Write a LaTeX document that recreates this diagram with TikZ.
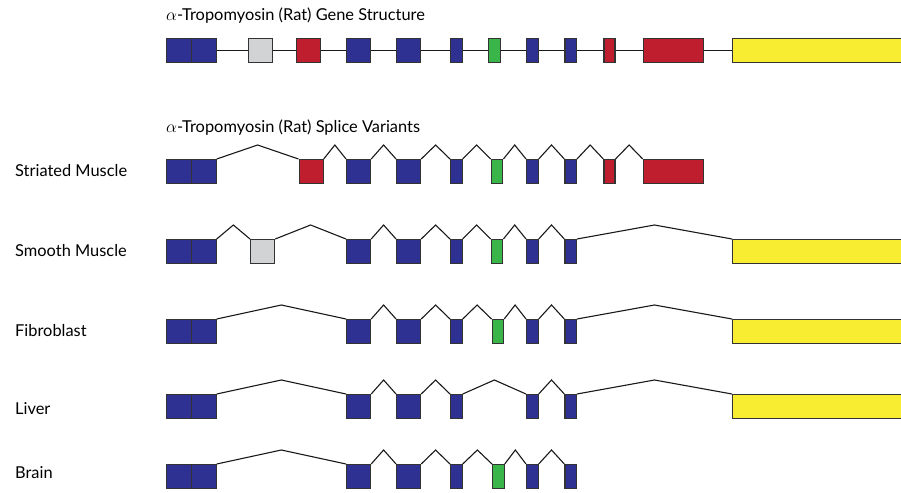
\documentclass[tikz,border=0pt]{standalone}
\usepackage{fontspec}
\setmainfont{Lato}
\usetikzlibrary{calc}
\definecolor{exblue}{HTML}{2E3192}
\definecolor{exred}{HTML}{BE1E2D}
\definecolor{exgreen}{HTML}{39B54A}
\definecolor{exgrey}{HTML}{D1D3D4}
\definecolor{exyellow}{HTML}{F9ED32}
\tikzset{
    %exon boxes
    exon/.style={
      rectangle,
      draw=black!80, line width=1.2pt,
      inner sep=0pt,
      minimum height=24pt,
      anchor=north west},
    intron/.style={
      draw=black!90, line width=1.1pt},
    splice/.style={
      draw=black!90, line width=1.1pt, line join=miter},
    title/.style={
      anchor=base west, inner sep=0pt,
      font=\fontsize{16.4}{19}\selectfont},
    tissue/.style={
      anchor=base west, inner sep=0pt,
      font=\fontsize{16.4}{19}\selectfont},
}

\begin{document}
\begin{tikzpicture}[x=1pt,y=-1pt]
    \useasboundingbox (0,0) rectangle (901,492);
    \clip (0,0) rectangle (901,492);

    \node (genetitle) [title] at (166,21)
          {$\alpha$-Tropomyosin (Rat) Gene Structure};
    \node (splicetitle) [title] at (166,132.5)
          {$\alpha$-Tropomyosin (Rat) Splice Variants};

    % gene structure
    \foreach \n/\x/\w/\c in {1/166/24.5/exblue, 2/191/24.5/exblue,
        3/247.5/24/exgrey, 4/296/24/exred, 5/346/24/exblue, 6/396/24/exblue,
        7/450/11.5/exblue, 8/488/11.5/exgreen, 9/526/11.5/exblue,
        10/564.3/11.5/exblue, 11/603.3/11/exred, 12/642.7/60/exred,
        13/732/190/exyellow}
      \node (g\n) [exon, fill=\c, minimum width=\w pt] at (\x,38) {};
    \foreach \a/\b in {2/3,3/4,4/5,5/6,6/7,7/8,8/9,9/10,10/11,11/12,12/13}
      \draw [intron] (g\a.east) -- (g\b.west);

    % striated muscle
    \node (striated) [tissue] at (15,176) {Striated Muscle};
    \foreach \n/\x/\w/\c in {1/166/24.5/exblue, 2/191/24.5/exblue,
        4/298.5/24/exred, 5/346/24/exblue, 6/396/24/exblue,
        7/450/11.5/exblue, 8/490.7/11.5/exgreen, 9/526/11.5/exblue,
        10/564.3/11.5/exblue, 11/603.3/11/exred, 12/642.7/60/exred}
      \node (s\n) [exon, fill=\c, minimum width=\w pt] at (\x,159) {};
    \foreach \a/\b in {2/4,4/5,5/6,6/7,7/8,8/9,9/10,10/11,11/12}
      \draw [splice] (s\a.north east)
        -- ($(s\a.north east)!.5!(s\b.north west)+(0,-14)$) -- (s\b.north west);

    % smooth muscle
    \node (smooth) [tissue] at (15,256) {Smooth Muscle};
    \foreach \n/\x/\w/\c in {1/166/24.5/exblue, 2/191/24.5/exblue,
        3/250/24/exgrey, 5/346/24/exblue, 6/396/24/exblue,
        7/450/11.5/exblue, 8/490.7/11.5/exgreen, 9/526/11.5/exblue,
        10/564.3/11.5/exblue, 13/732/190/exyellow}
      \node (m\n) [exon, fill=\c, minimum width=\w pt] at (\x,239) {};
    \foreach \a/\b in {2/3,3/5,5/6,6/7,7/8,8/9,9/10,10/13}
      \draw [splice] (m\a.north east)
        -- ($(m\a.north east)!.5!(m\b.north west)+(0,-14)$) -- (m\b.north west);

    % fibroblast
    \node (fibro) [tissue] at (15,336) {Fibroblast};
    \foreach \n/\x/\w/\c in {1/166/24.5/exblue, 2/191/24.5/exblue,
        5/346/24/exblue, 6/396/24/exblue,
        7/450/11.5/exblue, 8/491.5/11.5/exgreen, 9/526/11.5/exblue,
        10/564.3/11.5/exblue, 13/732/190/exyellow}
      \node (f\n) [exon, fill=\c, minimum width=\w pt] at (\x,319) {};
    \foreach \a/\b in {2/5,5/6,6/7,7/8,8/9,9/10,10/13}
      \draw [splice] (f\a.north east)
        -- ($(f\a.north east)!.5!(f\b.north west)+(0,-14)$) -- (f\b.north west);

    % liver
    \node (liver) [tissue] at (15,414) {Liver};
    \foreach \n/\x/\w/\c in {1/166/24.5/exblue, 2/191/24.5/exblue,
        5/346/24/exblue, 6/396/24/exblue, 7/450/11.5/exblue,
        9/526/11.5/exblue, 10/564.3/11.5/exblue, 13/732/190/exyellow}
      \node (l\n) [exon, fill=\c, minimum width=\w pt] at (\x,394) {};
    \foreach \a/\b in {2/5,5/6,6/7,7/9,9/10,10/13}
      \draw [splice] (l\a.north east)
        -- ($(l\a.north east)!.5!(l\b.north west)+(0,-14)$) -- (l\b.north west);

    % brain
    \node (brain) [tissue] at (15,478) {Brain};
    \foreach \n/\x/\w/\c in {1/166/24.5/exblue, 2/191/24.5/exblue,
        5/346/24/exblue, 6/396/24/exblue,
        7/450/11.5/exblue, 8/492/11.5/exgreen, 9/526/11.5/exblue,
        10/564.3/11.5/exblue}
      \node (b\n) [exon, fill=\c, minimum width=\w pt] at (\x,464) {};
    \foreach \a/\b in {2/5,5/6,6/7,7/8,8/9,9/10}
      \draw [splice] (b\a.north east)
        -- ($(b\a.north east)!.5!(b\b.north west)+(0,-14)$) -- (b\b.north west);
  \end{tikzpicture}
\end{document}
